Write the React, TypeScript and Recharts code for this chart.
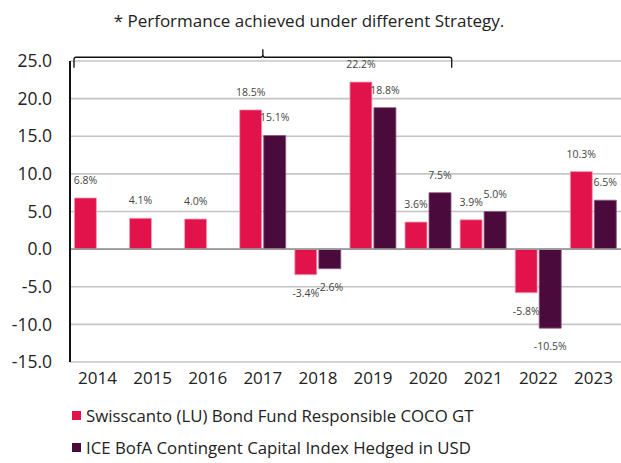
import React from 'react';
import {
  BarChart,
  Bar,
  XAxis,
  YAxis,
  CartesianGrid,
  ReferenceLine,
  ReferenceArea,
  Legend,
  LabelList,
} from 'recharts';

const years = ['2014', '2015', '2016', '2017', '2018', '2019', '2020', '2021', '2022', '2023'];
const fundReturns = [6.8, 4.1, 4.0, 18.5, -3.4, 22.2, 3.6, 3.9, -5.8, 10.3];
const indexReturns = [null, null, null, 15.1, -2.6, 18.8, 7.5, 5.0, -10.5, 6.5];
const yTicks = [25, 20, 15, 10, 5, 0, -5, -10, -15];

const fundName = 'Swisscanto (LU) Bond Fund Responsible COCO GT';
const indexName = 'ICE BofA Contingent Capital Index Hedged in USD';
const note = '* Performance achieved under different Strategy.';

const FUND_COLOR = '#E2124B';
const INDEX_COLOR = '#4A0A3C';
const FONT = '"Open Sans", sans-serif';

const data = years.map((year, i) => ({
  year,
  fund: fundReturns[i],
  index: indexReturns[i],
}));

const renderValueLabel = (props: any) => {
  const { x, y, width, height, value } = props;
  if (value === null || value === undefined) return null;
  const top = Math.min(y, y + height);
  const bottom = Math.max(y, y + height);
  const cy = value >= 0 ? top - 18 : bottom + 18;
  return (
    <text
      x={x + width / 2}
      y={cy}
      textAnchor="middle"
      dominantBaseline="central"
      fontSize={10.5}
      fill="#444"
      fontFamily={FONT}
    >
      {`${Number(value).toFixed(1)}%`}
    </text>
  );
};

// bracket over the years run under the old strategy
const Bracket = (props: any) => {
  const { x, y, width, height } = props;
  const left = x + 4;
  const right = x + width - 4;
  const mid = x + width / 2;
  const bottom = y + height;
  const path = `M${left},${bottom} L${left},${y + 2} Q${left},${y} ${left + 2},${y} L${mid - 2},${y} Q${mid},${y} ${mid},${y - 3} L${mid},${y - 8} M${mid},${y - 3} Q${mid},${y} ${mid + 2},${y} L${right - 2},${y} Q${right},${y} ${right},${y + 2} L${right},${bottom}`;
  return <path d={path} fill="none" stroke="#111" strokeWidth={1.3} />;
};

const renderLegend = () => {
  const items = [
    { name: fundName, color: FUND_COLOR },
    { name: indexName, color: INDEX_COLOR },
  ];
  return (
    <div style={{ height: 71, position: 'relative' }}>
      {items.map((item, i) => (
        <div
          key={item.name}
          style={{
            position: 'absolute',
            left: 72,
            top: 12 + i * 32,
            display: 'flex',
            alignItems: 'center',
            fontFamily: FONT,
            fontSize: 16.8,
            color: '#222',
            whiteSpace: 'nowrap',
          }}
        >
          <span style={{ width: 9, height: 9, background: item.color, marginRight: 5, display: 'inline-block' }} />
          {item.name}
        </div>
      ))}
    </div>
  );
};

export default function App() {
  return (
    <div style={{ position: 'absolute', left: 0, top: 0, width: 621, height: 463, background: '#fff' }}>
      <div
        style={{
          position: 'absolute',
          top: 9,
          left: 0,
          width: 618,
          textAlign: 'center',
          fontFamily: FONT,
          fontSize: 17,
          color: '#222',
          zIndex: 2,
        }}
      >
        {note}
      </div>
      <BarChart
        width={621}
        height={463}
        data={data}
        margin={{ top: 61, right: 0, bottom: 0, left: 0 }}
        barCategoryGap="8%"
        barGap={2}
      >
        <CartesianGrid vertical={false} stroke="#c4c4c4" strokeWidth={1.6} />
        <XAxis
          dataKey="year"
          axisLine={false}
          tickLine={false}
          tickSize={0}
          tickMargin={10}
          height={30}
          interval={0}
          tick={{ fill: '#222', fontSize: 17, fontFamily: FONT }}
        />
        <YAxis
          domain={[-15, 25]}
          ticks={yTicks}
          width={70}
          tickLine={false}
          tickSize={0}
          tickMargin={18}
          axisLine={{ stroke: '#111', strokeWidth: 2 }}
          tickFormatter={(v: number) => v.toFixed(1)}
          tick={{ fill: '#222', fontSize: 17.5, fontFamily: FONT }}
        />
        <ReferenceLine y={0} stroke="#999" strokeWidth={1.6} />
        <ReferenceArea
          x1="2014"
          x2="2020"
          y1={24.1}
          y2={25.5}
          ifOverflow="visible"
          shape={<Bracket />}
        />
        <Legend verticalAlign="bottom" align="left" content={renderLegend} />
        <Bar
          dataKey="fund"
          name={fundName}
          fill={FUND_COLOR}
          stroke="#f2a0b6"
          strokeWidth={0.8}
          isAnimationActive={false}
        >
          <LabelList dataKey="fund" content={renderValueLabel} />
        </Bar>
        <Bar
          dataKey="index"
          name={indexName}
          fill={INDEX_COLOR}
          stroke="#8a5a80"
          strokeWidth={0.8}
          isAnimationActive={false}
        >
          <LabelList dataKey="index" content={renderValueLabel} />
        </Bar>
      </BarChart>
    </div>
  );
}
